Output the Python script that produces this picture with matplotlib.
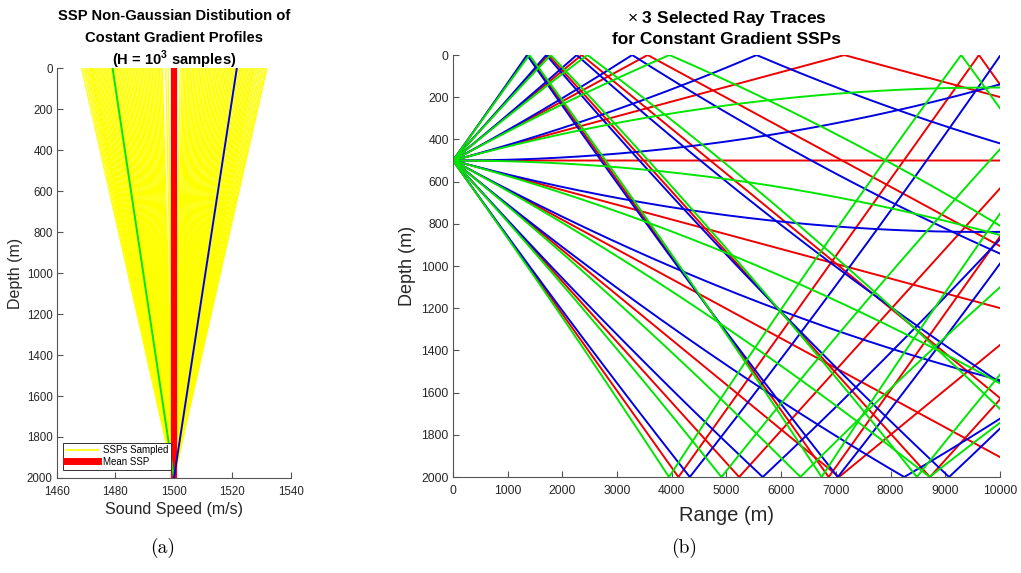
import numpy as np
import matplotlib
matplotlib.use("Agg")
import matplotlib.pyplot as plt
from matplotlib.lines import Line2D

# ------------------------------------------------------------------ data
# (a) sampled constant-gradient sound speed profiles
ssp_depths = [0.0, 2000.0]                 # surface, bottom (m)
mean_ssp_speeds = [1500.0, 1500.0]         # mean SSP (m/s)
green_ssp_speeds = [1479.0, 1500.0]        # highlighted sample (green)
blue_ssp_speeds = [1521.5, 1500.0]         # highlighted sample (blue)
# surface sound speeds of the sampled profiles (all reach 1500 m/s at 2000 m)
sampled_surface_speeds = [
    1468.4, 1469.1, 1469.7, 1470.3, 1470.8, 1471.3, 1471.7,
    1472.0, 1472.5, 1473.0, 1473.5, 1474.0, 1474.5, 1475.0, 1475.5,
    1476.0, 1476.5, 1477.0, 1477.5, 1478.0, 1478.5, 1479.0, 1479.5,
    1480.0, 1480.5, 1481.0, 1481.5, 1482.0, 1482.5, 1483.0, 1483.5,
    1484.0, 1484.5, 1485.0, 1485.5, 1486.0, 1486.5, 1487.0, 1487.5,
    1488.0, 1488.5, 1489.0, 1489.5, 1490.0, 1490.5, 1491.0, 1491.5,
    1492.0, 1492.5, 1493.0, 1493.5, 1494.0, 1494.5, 1495.0, 1495.5,
    1496.0, 1497.2, 1498.0, 1502.1, 1502.8,
    1503.3, 1503.8, 1504.3, 1504.8, 1505.3, 1505.8, 1506.3, 1506.8,
    1507.3, 1507.8, 1508.3, 1508.8, 1509.3, 1509.8, 1510.3, 1510.8,
    1511.3, 1511.8, 1512.3, 1512.8, 1513.3, 1513.8, 1514.3, 1514.8,
    1515.3, 1515.8, 1516.3, 1516.8, 1517.3, 1517.8, 1518.3, 1518.8,
    1519.3, 1519.8, 1520.3, 1520.8, 1521.3, 1521.8, 1522.3, 1522.8,
    1523.3, 1523.8, 1524.3, 1524.8, 1525.3, 1525.8, 1526.3, 1526.8,
    1527.2, 1527.7, 1528.3, 1528.9, 1529.5, 1530.1, 1530.7, 1531.3, 1531.8,
]

# (b) ray traces for three constant gradient SSPs
launch_elevations_deg = [-20, -16, -12, -8, -4, 0, 4, 8, 12, 16, 20]
source_depth = 500.0
max_range = 10000.0
water_depth = 2000.0
ray_colors = ["red", "blue", "green"]
ray_surface_speeds = [1500.0, 1478.6, 1521.4]
ray_bottom_speeds = [1500.0, 1500.0, 1500.0]

title_a_lines = ["SSP Non-Gaussian Distibution of",
                 "Costant Gradient Profiles",
                 r"(H = 10$^{\mathbf{3}}$ samples)"]

# ------------------------------------------------------------------ style
plt.rcParams["font.family"] = ["Liberation Sans", "DejaVu Sans"]
plt.rcParams["mathtext.fontset"] = "custom"
plt.rcParams["mathtext.rm"] = "Liberation Sans"
plt.rcParams["mathtext.bf"] = "Liberation Sans:bold"
AX_COL = "#555555"
TXT_COL = "#262626"
COLORS = {"red": "#ee0000", "blue": "#0000e0", "green": "#00e600"}


def trace_ray(elev_deg, c_top, c_bot, z0, xmax, zmax, dx=2.0):
    """Ray path in a linear-gradient SSP with surface/bottom reflection."""
    g = (c_bot - c_top) / zmax
    x, z = 0.0, z0
    th = -np.radians(elev_deg)      # positive = downward
    xs, zs = [x], [z]
    while x < xmax:
        c = c_top + g * z
        thm = th - 0.5 * dx * g / c
        zm = z + 0.5 * dx * np.tan(th)
        cm = c_top + g * zm
        z_new = z + dx * np.tan(thm)
        th_new = th - dx * g / cm
        x_new = x + dx
        if z_new < 0:
            frac = z / (z - z_new)
            xs.append(x + frac * dx); zs.append(0.0)
            z_new, th_new = -z_new, -th_new
        elif z_new > zmax:
            frac = (zmax - z) / (z_new - z)
            xs.append(x + frac * dx); zs.append(zmax)
            z_new, th_new = 2 * zmax - z_new, -th_new
        x, z, th = x_new, z_new, th_new
        xs.append(x); zs.append(z)
    return np.array(xs), np.array(zs)


def style_axes(ax, fs, pad):
    for s in ["top", "right"]:
        ax.spines[s].set_visible(False)
    for s in ["left", "bottom"]:
        ax.spines[s].set_color(AX_COL)
        ax.spines[s].set_linewidth(0.8)
    ax.tick_params(direction="in", length=4, width=0.8, color=AX_COL,
                   labelcolor=TXT_COL, labelsize=fs)
    ax.tick_params(axis="x", pad=pad)
    ax.tick_params(axis="y", pad=3)


W, H = 1021, 573
fig = plt.figure(figsize=(W / 100, H / 100), dpi=100)

# ------------------------------------------------------------------ (a)
axa = fig.add_axes([0.0558, 0.1658, 0.2292, 0.7155])
for s0 in sampled_surface_speeds:
    axa.plot([s0, mean_ssp_speeds[1]], ssp_depths, color="yellow", lw=0.9, zorder=1)
axa.plot(mean_ssp_speeds, ssp_depths, color="red", lw=4.5, zorder=2)
axa.plot(green_ssp_speeds, ssp_depths, color=COLORS["green"], lw=1.4, zorder=3)
axa.plot(blue_ssp_speeds, ssp_depths, color=COLORS["blue"], lw=1.4, zorder=3)
axa.set_xlim(1460, 1540)
axa.set_ylim(2000, 0)
axa.set_xticks([1460, 1480, 1500, 1520, 1540])
axa.set_yticks(np.arange(0, 2001, 200))
style_axes(axa, 8.3, 6)
axa.set_xlabel("Sound Speed (m/s)", fontsize=11.5, color=TXT_COL, labelpad=3)
axa.set_ylabel("Depth (m)", fontsize=11.5, color=TXT_COL, labelpad=3)
for line, ypx in zip(title_a_lines, [16, 38, 60]):
    fig.text(174 / W, 1 - ypx / H, line, fontsize=10.6, fontweight="bold",
             color="black", ha="center", va="center")
handles = [Line2D([], [], color="yellow", lw=1.2),
           Line2D([], [], color="red", lw=5)]
leg = axa.legend(handles, ["SSPs Sampled", "Mean SSP"], loc="lower left",
                 bbox_to_anchor=(0.025, 0.02), borderaxespad=0, fontsize=7,
                 fancybox=False, framealpha=1, edgecolor="#333333",
                 handlelength=3.3, handletextpad=0.5, borderpad=0.3,
                 labelspacing=0.15)
leg.get_frame().set_linewidth(0.7)

# ------------------------------------------------------------------ (b)
axb = fig.add_axes([0.4437, 0.1675, 0.5357, 0.7365])
for col, ct, cb in zip(ray_colors, ray_surface_speeds, ray_bottom_speeds):
    for el in launch_elevations_deg:
        xr, zr = trace_ray(el, ct, cb, source_depth, max_range, water_depth)
        axb.plot(xr, zr, color=COLORS[col], lw=1.4)
axb.set_xlim(0, max_range)
axb.set_ylim(water_depth, 0)
axb.set_xticks(np.arange(0, 10001, 1000))
axb.set_yticks(np.arange(0, 2001, 200))
style_axes(axb, 8.8, 6)
axb.set_xlabel("Range (m)", fontsize=14.5, color=TXT_COL, labelpad=6)
axb.set_ylabel("Depth (m)", fontsize=13, color=TXT_COL, labelpad=4)
axb.set_title(r"$\times$ 3 Selected Ray Traces" + "\nfor Constant Gradient SSPs",
              fontsize=12.5, fontweight="bold", color="black", pad=8,
              linespacing=1.35)

# ------------------------------------------------------------------ captions
fig.text(163 / W, 1 - 548 / H, "(a)", family="cmr10", fontsize=14,
         ha="center", va="center")
fig.text(684 / W, 1 - 548 / H, "(b)", family="cmr10", fontsize=14,
         ha="center", va="center")

fig.savefig("out.png", dpi=100)
